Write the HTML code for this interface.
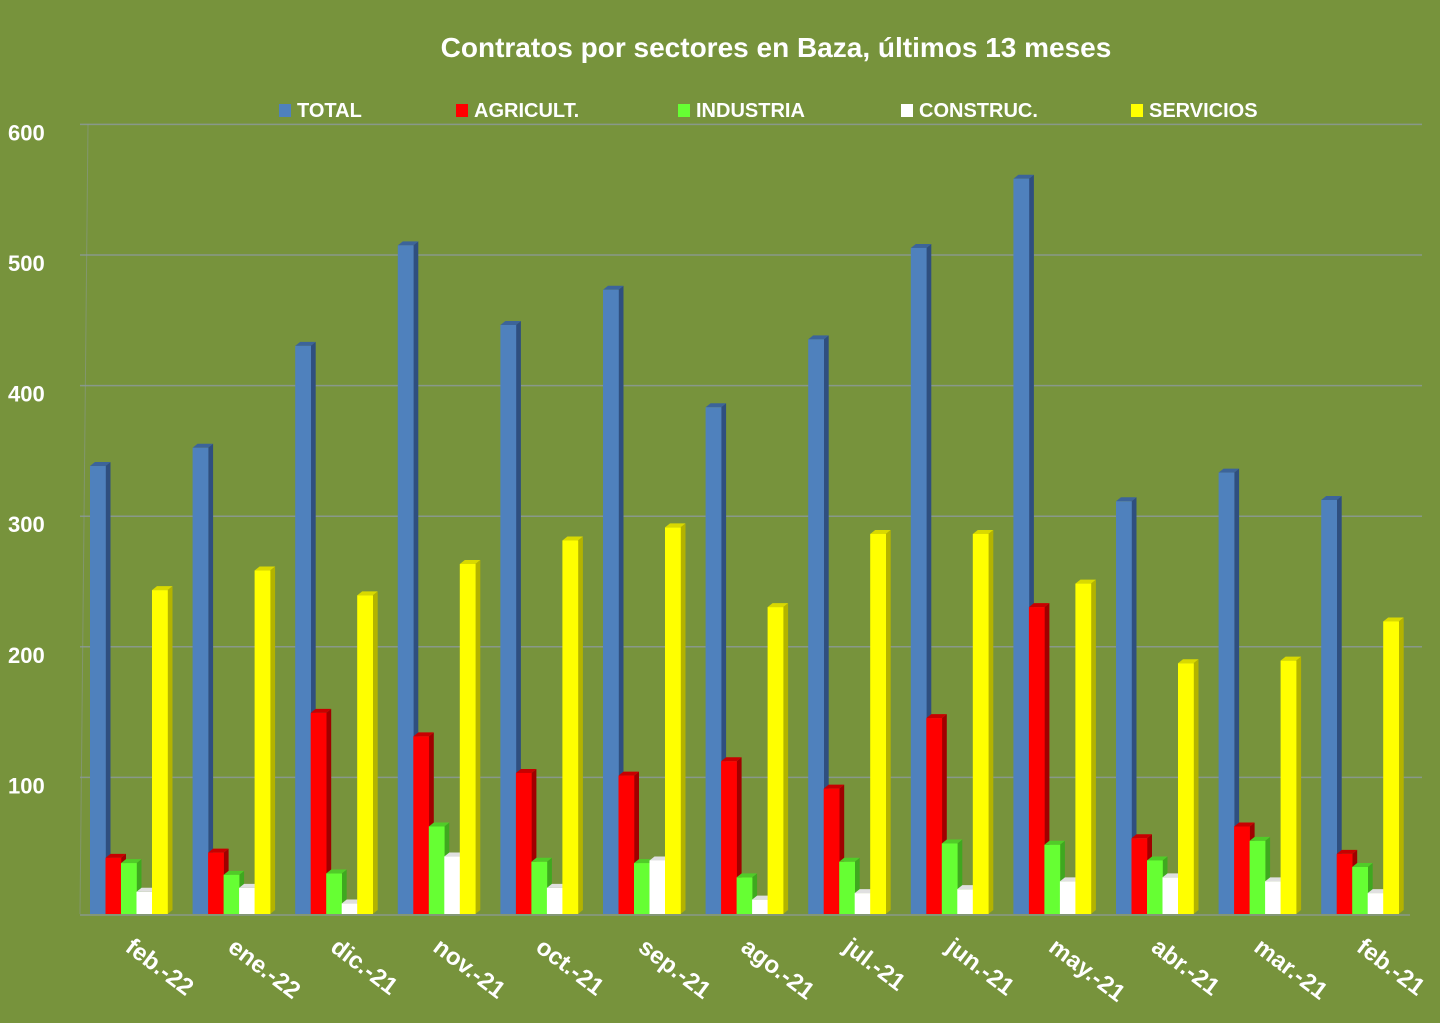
<!DOCTYPE html>
<html><head><meta charset="utf-8"><style>
html,body{margin:0;padding:0;background:#77933c;}
svg{display:block;font-family:"Liberation Sans",sans-serif;}
</style></head><body>
<svg id="c" width="1440" height="1023" xmlns="http://www.w3.org/2000/svg">
<rect width="1440" height="1023" fill="#77933c"/>
<text x="776" y="57" text-anchor="middle" font-size="28" font-weight="bold" fill="#fff">Contratos por sectores en Baza, últimos 13 meses</text>
<g font-size="20" font-weight="bold" fill="#fff">
<rect x="279" y="104" width="12" height="13" fill="#4f81bd"/><text x="297" y="117">TOTAL</text>
<rect x="456" y="104" width="12" height="13" fill="#ff0000"/><text x="474" y="117">AGRICULT.</text>
<rect x="678" y="104" width="12" height="13" fill="#66ff33"/><text x="696" y="117">INDUSTRIA</text>
<rect x="901" y="104" width="12" height="13" fill="#ffffff"/><text x="919" y="117">CONSTRUC.</text>
<rect x="1131" y="104" width="12" height="13" fill="#ffff00"/><text x="1149" y="117">SERVICIOS</text>
</g>
<g id="grid"></g>
<g id="bars"></g>
<g id="lbl" font-size="24" font-weight="bold" fill="#fff"></g>
</svg>
<script>
var ns="http://www.w3.org/2000/svg";
function el(t,a,p){var e=document.createElementNS(ns,t);for(var k in a)e.setAttribute(k,a[k]);p.appendChild(e);return e;}
var base=914,k=1.306;
var grid=document.getElementById('grid');
for(var v=100;v<=600;v+=100){
 var y=base-v*k-6;
 el('line',{x1:80,y1:y,x2:1422,y2:y,stroke:'#8d9a9e','stroke-width':1.5,opacity:0.8},grid);
 var t=el('text',{x:8,y:base-v*k+10,'font-size':22,'font-weight':'bold',fill:'#fff'},grid);t.textContent=v;
}
el('line',{x1:80,y1:base+1,x2:1410,y2:base+1,stroke:'#8d9a9e','stroke-width':1.5,opacity:0.8},grid);
el('line',{x1:88,y1:124,x2:80,y2:914,stroke:'#8d9a9e','stroke-width':1,opacity:0.5},grid);
var data=[[343,43,39,17,248],[357,47,30,20,263],[435,154,31,8,244],[512,136,67,44,268],[451,108,40,20,286],[478,106,39,41,296],[388,117,28,11,235],[440,96,40,16,291],[510,150,54,19,291],[563,235,53,25,253],[316,58,41,28,192],[338,67,56,25,194],[317,46,36,16,224]];
var labels=['feb.-22','ene.-22','dic.-21','nov.-21','oct.-21','sep.-21','ago.-21','jul.-21','jun.-21','may.-21','abr.-21','mar.-21','feb.-21'];
var cols=[['#4f81bd','#2f4f7f','#3c649a'],['#ff0000','#a00000','#c80000'],['#66ff33','#3fa81f','#50cc28'],['#ffffff','#bfbfbf','#e0e0e0'],['#ffff00','#b3b300','#d9d900']];
var bars=document.getElementById('bars'),lbl=document.getElementById('lbl');
var dx=5,dy=4,w=15.5;
data.forEach(function(d,g){
 var x0=90+102.6*g;
 d.forEach(function(v,i){
  var x=x0+i*w,h=v*k,top=base-h;
  el('polygon',{points:(x+w)+','+top+' '+(x+w+dx)+','+(top-dy)+' '+(x+w+dx)+','+(base-dy)+' '+(x+w)+','+base,fill:cols[i][1]},bars);
  el('polygon',{points:x+','+top+' '+(x+dx)+','+(top-dy)+' '+(x+w+dx)+','+(top-dy)+' '+(x+w)+','+top,fill:cols[i][2]},bars);
  el('rect',{x:x,y:top,width:w+0.3,height:h,fill:cols[i][0]},bars);
 });
 var t=el('text',{x:0,y:0,transform:'translate('+(x0+34)+',950) rotate(37)'},lbl);t.textContent=labels[g];
});
</script>
</body></html>
